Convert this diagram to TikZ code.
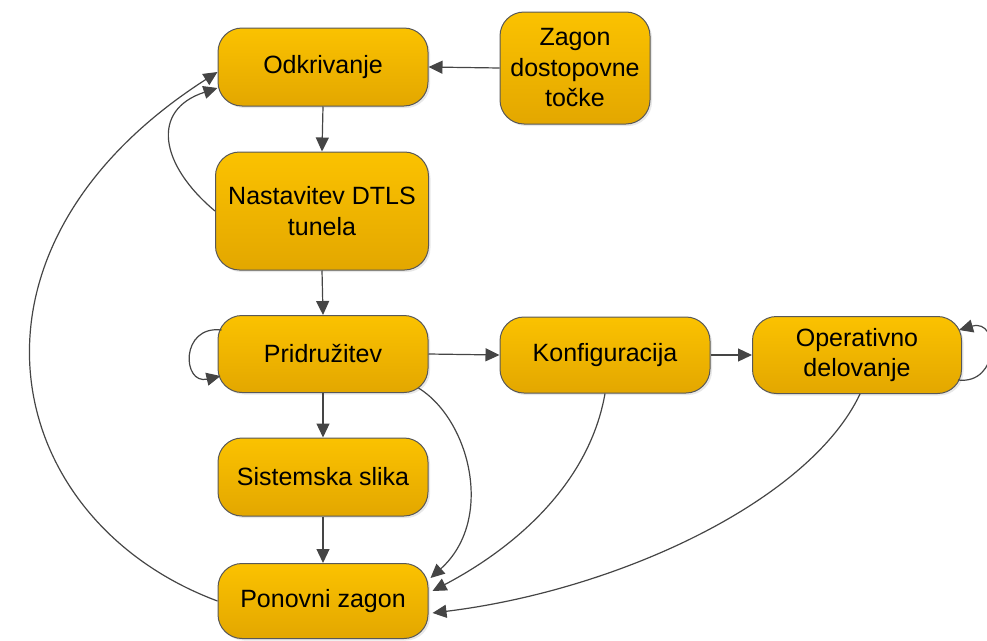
\documentclass[tikz,border=0pt]{standalone}
\usepackage{fontspec}
\setmainfont{Liberation Sans}
\usetikzlibrary{arrows.meta,shadows}
\definecolor{boxtop}{HTML}{FBC200}
\definecolor{boxbot}{HTML}{E3A700}
\definecolor{edgegray}{HTML}{454545}
\begin{document}
\begin{tikzpicture}[x=1pt,y=-1pt,
  state/.style={draw=edgegray!90, line width=1pt, rounded corners=24pt,
    top color=boxtop, bottom color=boxbot, align=center,
    font=\fontsize{25}{30.5}\selectfont, inner sep=0pt,
    drop shadow={shadow xshift=2pt, shadow yshift=-2pt, opacity=0.18}},
  link/.style={draw=edgegray, line width=1.2pt,
    -{Triangle[width=13pt,length=14pt]}}]
  \useasboundingbox (0,0) rectangle (987,640);
  % states
  \node[state, minimum width=210pt, minimum height=78pt] (odk) at (323,67) {Odkrivanje};
  \node[state, minimum width=150pt, minimum height=112pt] (zag) at (575,68) {Zagon\\dostopovne\\točke};
  \node[state, minimum width=213pt, minimum height=118pt] (nas) at (322,211) {Nastavitev DTLS\\tunela};
  \node[state, minimum width=210pt, minimum height=77pt] (pri) at (323,354) {Pridružitev};
  \node[state, minimum width=210pt, minimum height=76pt] (kon) at (605,355) {Konfiguracija};
  \node[state, minimum width=209pt, minimum height=77pt] (ope) at (857,355) {Operativno\\delovanje};
  \node[state, minimum width=210pt, minimum height=78pt] (sis) at (323,477) {Sistemska slika};
  \node[state, minimum width=210pt, minimum height=75pt] (pon) at (323,601) {Ponovni zagon};
  % straight transitions
  \draw[link] (zag.west) -- (odk.east);
  \draw[link] (odk.south) -- (nas.north);
  \draw[link] (nas.south) -- (pri.north);
  \draw[link] (pri.east) -- (kon.west);
  \draw[link] (kon.east) -- (ope.west);
  \draw[link] (pri.south) -- (sis.north);
  \draw[link] (sis.south) -- (pon.north);
  % curved transitions
  \draw[link] (nas.west) .. controls (160,165) and (150,110) .. ([yshift=-21pt]odk.west);
  \draw[link] (pon.west) .. controls (0,520) and (-60,250) .. ([yshift=-5pt]odk.west);
  \draw[link] ([xshift=4pt,yshift=24pt]pri.west) .. controls (180,325) and (182,385) .. ([xshift=3pt,yshift=-22pt]pri.west);
  \draw[link] ([xshift=-4pt,yshift=-25pt]ope.east) .. controls (1000,385) and (1000,318) .. ([xshift=-3pt,yshift=25pt]ope.east);
  \draw[link] ([xshift=-10pt,yshift=-34pt]pri.east) .. controls (470,420) and (495,520) .. ([xshift=2pt,yshift=23pt]pon.east);
  \draw[link] (kon.south) .. controls (590,480) and (520,545) .. ([xshift=4pt,yshift=10pt]pon.east);
  \draw[link] ([xshift=3pt]ope.south) .. controls (810,500) and (620,590) .. ([xshift=4pt,yshift=-12pt]pon.east);
\end{tikzpicture}
\end{document}
